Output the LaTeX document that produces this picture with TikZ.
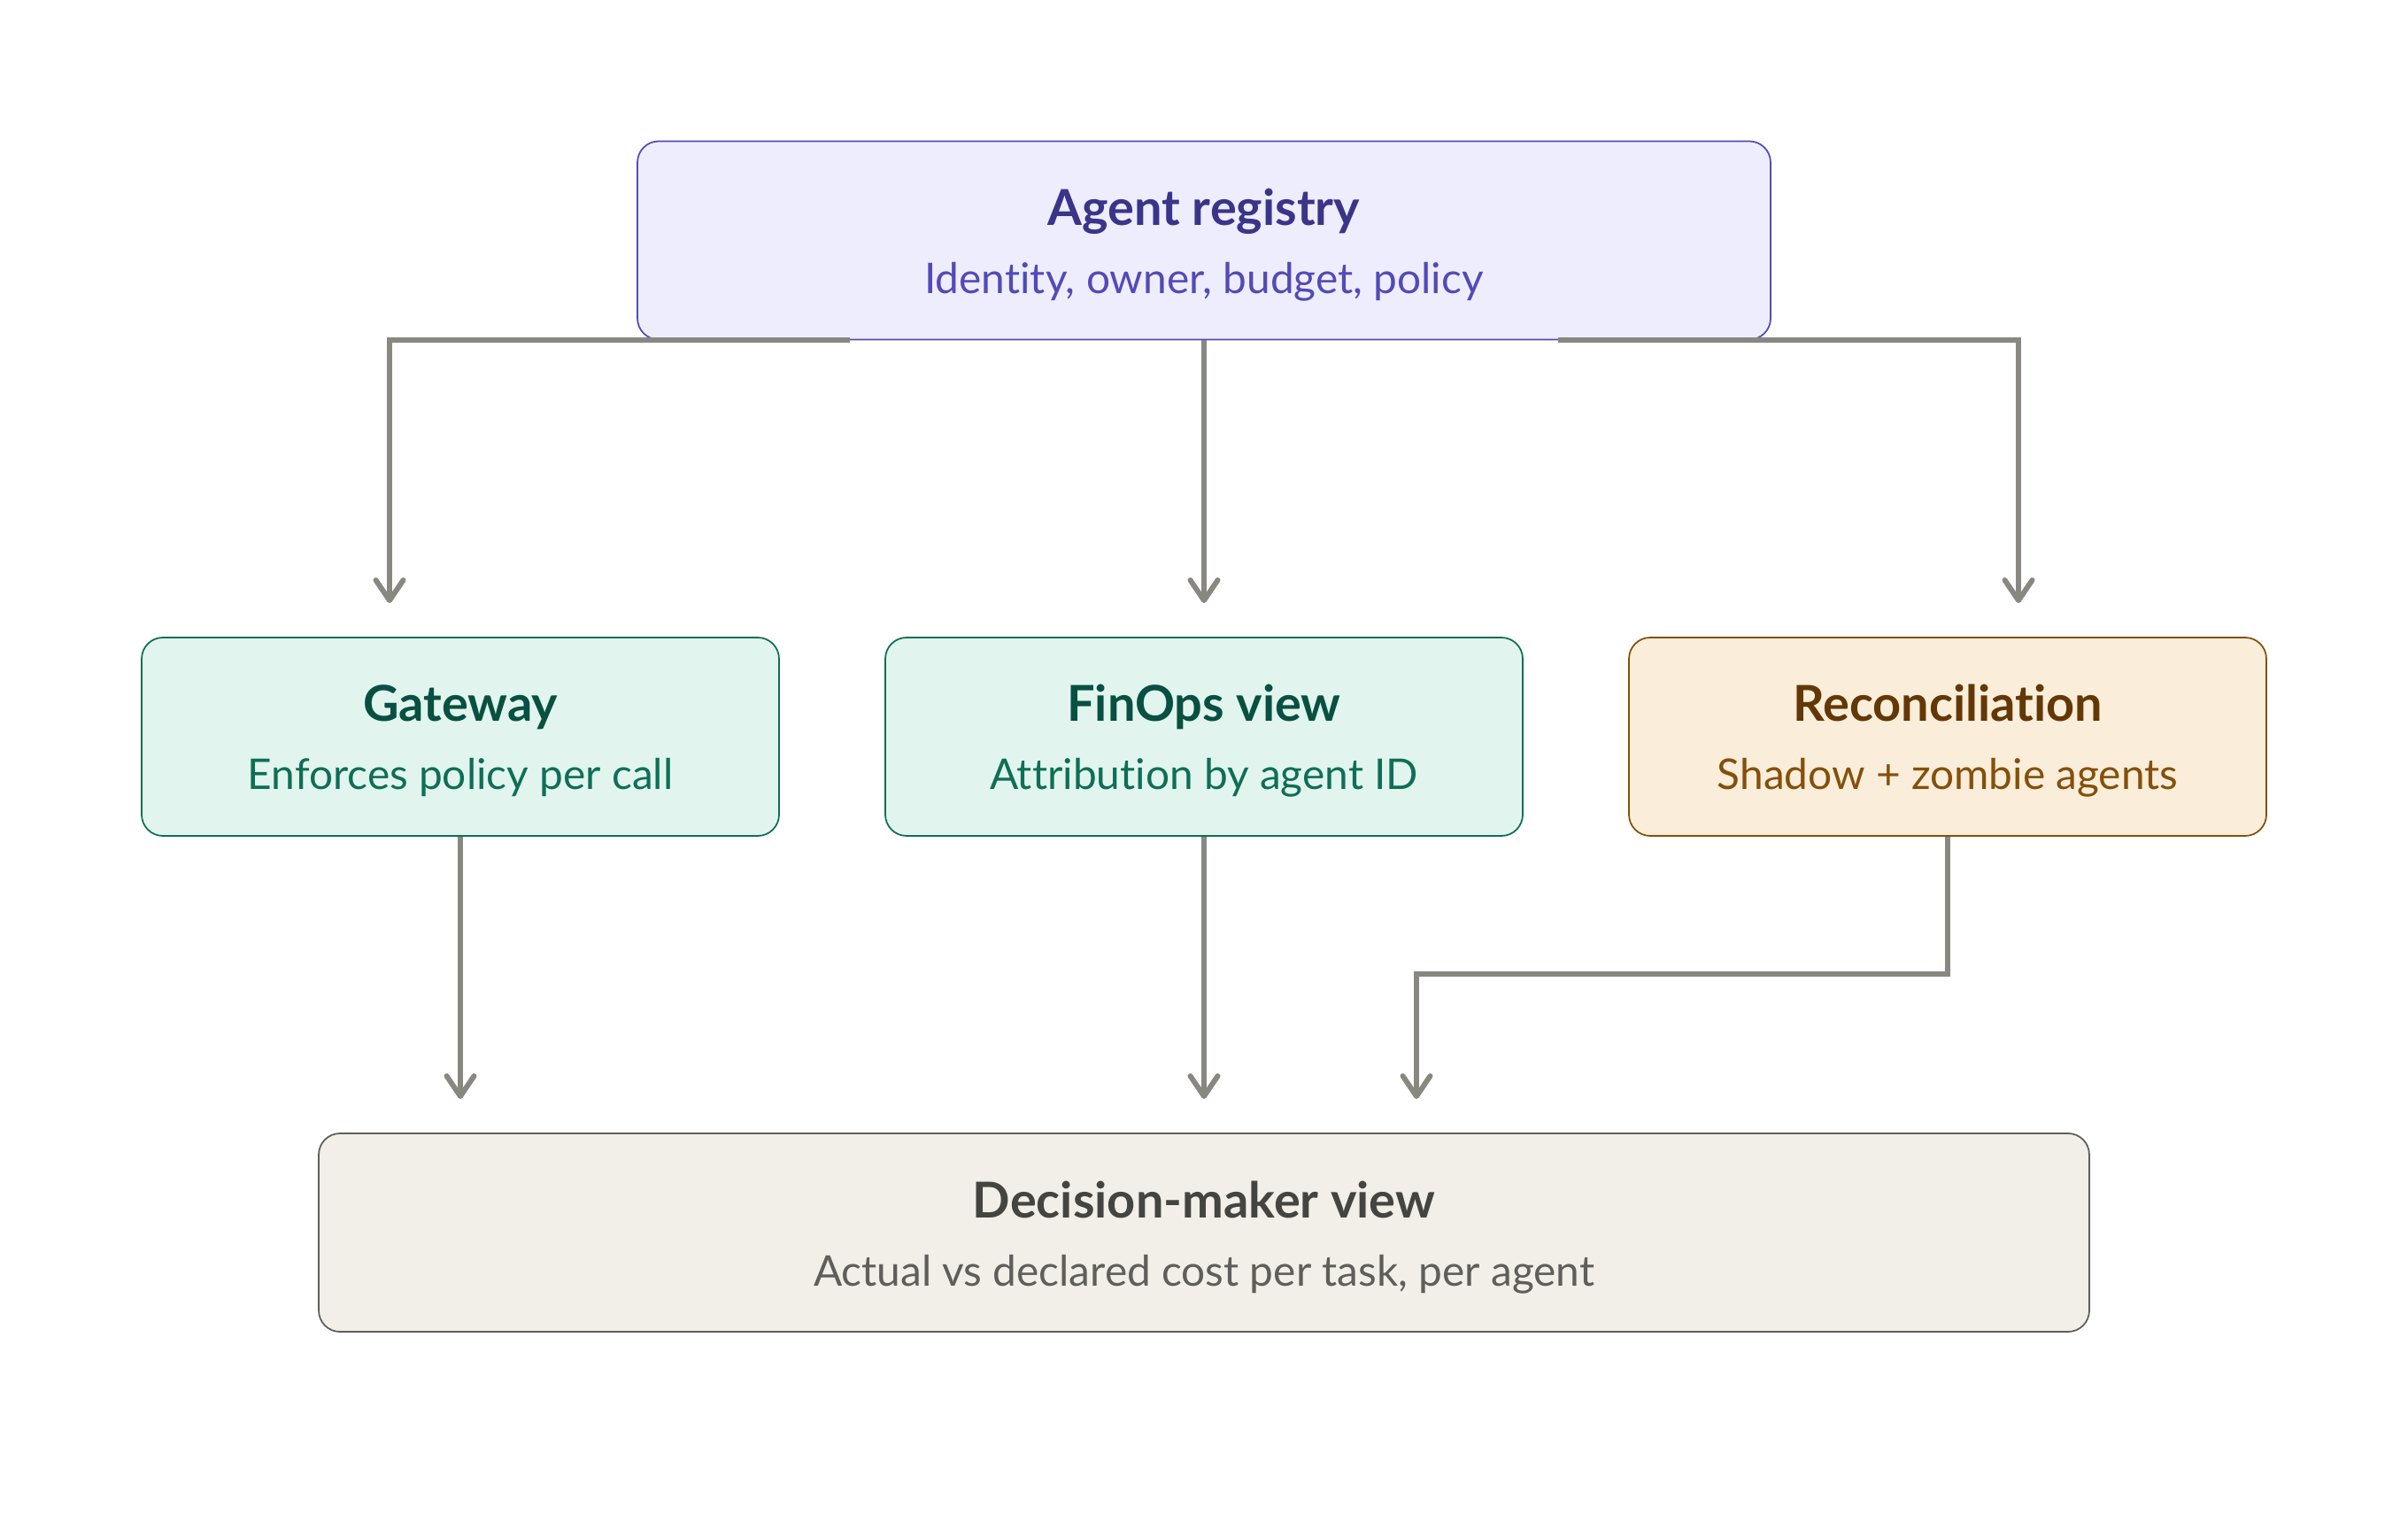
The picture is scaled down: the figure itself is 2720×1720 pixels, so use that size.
\documentclass[tikz,border=0pt]{standalone}
\usepackage{fontspec}
\setmainfont{Lato}[Ligatures={NoCommon}]
\usetikzlibrary{arrows.meta,calc}
\definecolor{regfill}{HTML}{EEEDFE}
\definecolor{regline}{HTML}{534AB7}
\definecolor{regtitle}{HTML}{3C3489}
\definecolor{grnfill}{HTML}{E1F5EE}
\definecolor{grnline}{HTML}{0F6E56}
\definecolor{grntitle}{HTML}{085041}
\definecolor{ambfill}{HTML}{FAEEDA}
\definecolor{ambline}{HTML}{854F0B}
\definecolor{ambtitle}{HTML}{633806}
\definecolor{gryfill}{HTML}{F1EFE8}
\definecolor{gryline}{HTML}{5F5E5A}
\definecolor{grytitle}{HTML}{444441}
\definecolor{arrowgray}{HTML}{888780}
\tikzset{
  box/.style={rectangle, rounded corners=2.4mm, line width=0.5pt, inner sep=0pt, minimum height=22.4mm},
  regbox/.style={box, fill=regfill, draw=regline, minimum width=128mm},
  grnbox/.style={box, fill=grnfill, draw=grnline, minimum width=72mm},
  ambbox/.style={box, fill=ambfill, draw=ambline, minimum width=72mm},
  grybox/.style={box, fill=gryfill, draw=gryline, minimum width=200mm},
  ttl/.style={anchor=base, inner sep=0pt, font=\fontsize{15.9}{18}\selectfont\bfseries},
  sub/.style={anchor=base, inner sep=0pt, font=\fontsize{13.6}{16}\selectfont},
  arr/.style={draw=arrowgray, line width=1.7pt, line join=miter,
    -{Straight Barb[length=2.3mm,width=3.1mm,line cap=round,line join=round]}, shorten >=3.8mm},
}
\begin{document}
\begin{tikzpicture}[x=0.1mm,y=-0.1mm]
\useasboundingbox (0,0) rectangle (2720,1720);
% boxes
\node[regbox] (reg) at (1360,271.5) {};
\node[grnbox] (gw) at (520,832) {};
\node[grnbox] (fin) at (1360,832) {};
\node[ambbox] (rec) at (2200,832) {};
\node[grybox] (dec) at (1360,1392) {};
% texts
\node[ttl, text=regtitle] (reg-t) at (1360,255) {Agent registry};
\node[sub, text=regline] (reg-s) at (1360,332) {Identity, owner, budget, policy};
\node[ttl, text=grntitle] (gw-t) at (520,815) {Gateway};
\node[sub, text=grnline] (gw-s) at (520,892) {Enforces policy per call};
\node[ttl, text=grntitle] (fin-t) at (1360,815) {FinOps view};
\node[sub, text=grnline] (fin-s) at (1360,892) {Attribution by agent ID};
\node[ttl, text=ambtitle] (rec-t) at (2200,815) {Reconciliation};
\node[sub, text=ambline] (rec-s) at (2200,892) {Shadow + zombie agents};
\node[ttl, text=grytitle] (dec-t) at (1360,1375) {Decision-maker view};
\node[sub, text=gryline] (dec-s) at (1360,1452) {Actual vs declared cost per task, per agent};
% connectors
\draw[arr] ([xshift=-40mm]reg.south) -| ([xshift=-8mm]gw.north);
\draw[arr] (reg.south) -- (fin.north);
\draw[arr] ([xshift=40mm]reg.south) -| ([xshift=8mm]rec.north);
\draw[arr] (gw.south) -- (gw.south |- dec.north);
\draw[arr] (fin.south) -- (dec.north);
\coordinate (bend) at (1600,1100);
\draw[arr] (rec.south) |- (bend) -- (bend |- dec.north);
\end{tikzpicture}
\end{document}
